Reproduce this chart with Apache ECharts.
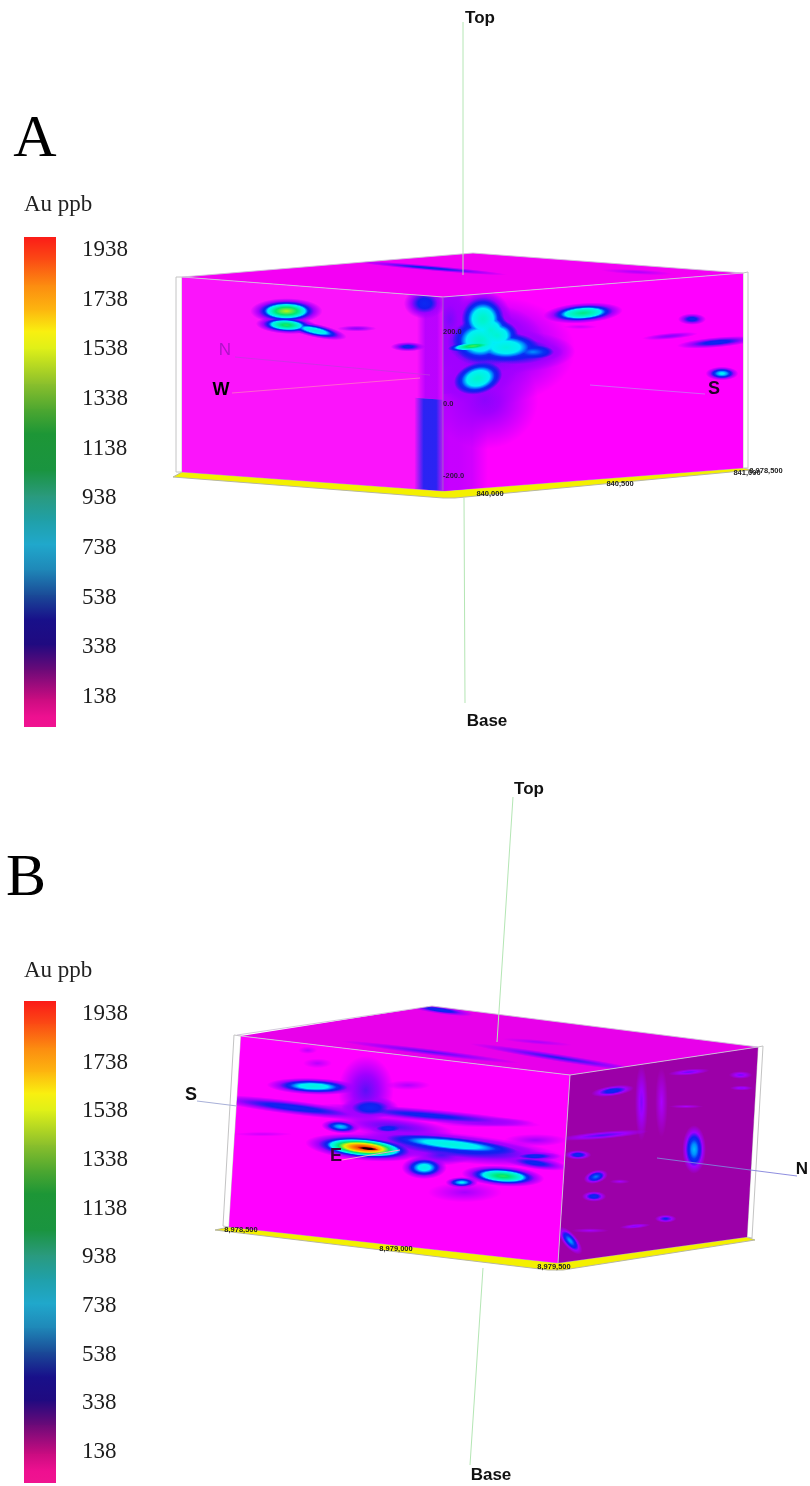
<!DOCTYPE html>
<html><head><meta charset="utf-8">
<style>html,body{margin:0;padding:0;background:#fff}#c{width:810px;height:1486px;filter:blur(0.5px)}</style>
<script src="https://cdn.jsdelivr.net/npm/echarts@6/dist/echarts.min.js"></script>
</head><body><div id="c"></div>
<script>
// ---- Legend ----
const legendTicks = [138,338,538,738,938,1138,1338,1538,1738,1938];
const legendPpb   = [9,60,130,250,350,450,550,650,750,850,950,1050,1200,1300,1400,1540,1610,1700,1800,1900,1995];
const legendHex   = ['#f01490','#ee1090','#c80c80','#6a0a78','#200a80','#18108a','#1a4c98','#1f88b8','#20a8cc','#20a0a8','#2a9a7c','#1a9440','#1d9636','#50a830','#8cc02c','#dff018','#f9f010','#fdb50f','#fc8a10','#fb4a14','#fb1818'];
// ---- Colour ramp of the block model ----
const fieldPpb = [40,200,350,480,620,740,950,1250,1550,1780,1950,2150];
const fieldHex = ['#ff00ff','#a000ff','#1020f0','#0830f4','#0090ff','#00f0f8','#00f4d0','#00e870','#e8f000','#ff9000','#d81800','#180000'];
// ---- Au anomalies: [along %, down %, half-length %, half-height %, tilt deg, peak ppb] ----
const anomaliesAWest = [
 [40,13.4,10,4.8,0,1500],[40,20.6,8.5,3.3,3,1300],[51,22.3,9,2.6,12,950],[67,19.6,6,1.2,0,220],
 [86.6,27,5,1.8,0,400],[93,4,6,6,0,430]];
const anomaliesASouth = [
 [15.7,29.4,22,22,0,260],[14,54.8,14,20,0,220],[2.3,12,6,16,0,240],
 [14,25,15,15,0,430],[24,31,15,8,0,430],[11.7,43.3,10,9,-15,430],
 [13.3,13,7,11,0,980],[12.3,24,9,11,0,980],[16,19,6,9,0,950],[18,22,7,8,0,950],[21,28.5,11,7.5,0,900],[30,32,7.5,3.8,0,620],
 [10,26.5,8,2.4,-6,1350],[11.7,43.3,8,8,-15,960],[46.7,14,9.6,3.8,-4,1200],[83,21.6,3.5,2.2,0,420],
 [75.7,29.4,7.3,1.3,-5,230],[91.3,34.5,10,2,-5,420],[93,50.7,4,2.6,0,760],[45.7,21,5,1,0,130]];
const anomaliesATop = [[60.5,27.6,20,0.8,5,380],[86.1,78.3,10,0.8,3,180]];
const anomaliesBEast = [
 [22.8,21.8,10.3,3.2,2,900],[17.2,34.1,20,2.8,7,420],[58,30,25.8,2.6,5,380],[38.7,20.7,6.5,14,0,270],
 [40.3,29.5,6.5,4.5,0,450],[48,38,14,4,6,290],[31.8,41.2,4.3,2.6,5,700],[46.1,39.3,4.3,2.1,0,430],[66.6,45.3,25.8,5.8,6,420],
 [65.6,43.8,19.8,3.8,6,900],[39.2,50.8,12.8,4.9,5,1950],[40.4,51,7,2,6,2250],[57.8,57.6,5,4.4,0,850],
 [69.4,63.2,3.6,2.1,0,750],[81.7,57.4,9.1,3.9,4,1300],[91.2,48.6,7.6,2.4,8,400],[91,45,6,1.8,0,420],
 [70.5,68.2,9,4.2,0,190],[62.8,50,7.6,4.2,0,300],[51.3,15.4,5.5,2.1,0,170],[23.6,9.5,3.6,2.1,0,160],
 [20.4,3.3,2.4,1.6,0,150],[8.5,49.7,7.6,1,0,130],[90.8,36.5,7.6,2.6,0,200],[75.2,30.2,12,2.1,0,210]];
const anomaliesBNorth = [
 [23.4,11.9,8.5,2.1,-8,430],[63.7,7.9,8.5,1.3,-5,260],[91.5,13.5,4.8,1.6,0,250],[92.4,20.5,4.8,1,0,230],
 [19.7,34.9,18.6,1.6,-5,290],[7,43.5,5.3,1.9,0,430],[17.3,56.6,4.8,2.6,-15,600],[17,67,4.8,2.1,0,440],
 [69,49.5,4.6,9.5,0,680],[56,84.3,4.3,1.6,0,360],[40,86,6.4,1,-5,240],[5.7,88.9,6.6,2.8,50,640],
 [39.3,20.5,2.7,16,0,230],[50,21.8,2.7,15,0,180],[63.3,26,7.4,0.8,0,180],[16,85,8,1,0,190],[30.3,61,4.3,1,0,190]];
const anomaliesBTop = [[12.2,50.4,36,0.75,7,280],[30,79.5,36,0.9,9,340],[94.2,5.8,13,0.9,8,450],[55.3,57.9,15,0.6,5,180]];
// ---- Vertical bands seen through the block: [from %, to %, top %, bottom %, peak ppb] ----
const bandsAWest  = [[90,101,0,53,170],[89,101,53,100,400]];
const bandsASouth = [[-3,9,0,100,190],[-3,15,50,100,130]];

const FACES = [
 {c:[[182,277],[473,253],[743,273],[443,297]],top:1,fill:'#f400f4',d:anomaliesATop,b:[]},
 {c:[[182,277],[443,297],[443,491],[182,472]],fill:'#fb14fb',d:anomaliesAWest,b:bandsAWest},
 {c:[[443,297],[743,273],[743,468],[443,491]],fill:'#ff00ff',d:anomaliesASouth,b:bandsASouth},
 {c:[[241,1036],[432,1006],[758,1047],[570,1075]],top:1,fill:'#e800ea',d:anomaliesBTop,b:[]},
 {c:[[241,1036],[570,1075],[558,1263],[229,1227]],fill:'#ff00ff',d:anomaliesBEast,b:[]},
 {c:[[570,1075],[758,1047],[747,1237],[558,1263]],fill:'#9c00a8',d:anomaliesBNorth,b:[]}
];
function hex(h){return [1,3,5].map(i=>parseInt(h.substr(i,2),16));}
function ramp(v){
  for(let i=1;i<fieldPpb.length;i++){ if(v<=fieldPpb[i]){
    const f=(v-fieldPpb[i-1])/(fieldPpb[i]-fieldPpb[i-1]),a=hex(fieldHex[i-1]),b=hex(fieldHex[i]);
    return a.map((x,k)=>Math.round(x+(b[k]-x)*f));}}
  return hex(fieldHex[fieldHex.length-1]);
}
function faceXY(f,s,t){
  const c=f.c;
  if(f.top){
    return [c[0][0]+(c[1][0]-c[0][0])*s/100+(c[3][0]-c[0][0])*t/100, c[0][1]+(c[1][1]-c[0][1])*s/100+(c[3][1]-c[0][1])*t/100];
  }
  const tx=c[0][0]+(c[1][0]-c[0][0])*s/100, ty=c[0][1]+(c[1][1]-c[0][1])*s/100,
        bx=c[3][0]+(c[2][0]-c[3][0])*s/100, by=c[3][1]+(c[2][1]-c[3][1])*s/100;
  return [tx+(bx-tx)*t/100, ty+(by-ty)*t/100];
}
function len(a,b){return Math.hypot(a[0]-b[0],a[1]-b[1]);}
function rad(P,L){
  if(L>=P) return 0;
  const r=Math.sqrt(1-L/P);
  return L<=fieldPpb[0]?r*1.4:(L<=fieldPpb[1]?r*1.14:r);
}
function anomalySeries(f){
  const rows=[];
  for(let lv=1;lv<fieldPpb.length;lv++) f.d.forEach((b,i)=>{ if(b[5]>fieldPpb[lv-1]) rows.push([i,lv]); });
  return {type:'custom',coordinateSystem:'cartesian2d',xAxisIndex:0,yAxisIndex:0,z:4,silent:true,clip:false,animation:false,
    encode:{x:0,y:1},data:rows,
    renderItem(p,api){
      const [i,lv]=rows[p.dataIndex], b=f.d[i], P=b[5];
      const C=api.coord(faceXY(f,b[0],b[1]));
      const w=len(f.c[0],f.c[1])/100, h=len(f.c[0],f.c[3])/100;
      const lo=fieldPpb[lv-1], hi=fieldPpb[lv];
      const rOut=rad(P,lo), rIn=rad(P,hi), rgb=ramp(Math.min(P,hi));
      const inner=rOut>0?rIn/rOut:0, col=`rgba(${rgb},1)`, col0=`rgba(${rgb},0)`;
      const stops=[{offset:0,color:col}]; if(inner>0) stops.push({offset:inner,color:col});
      stops.push({offset:1,color:col0});
      return {type:'group',
        clipPath:{type:'polygon',shape:{points:f.c.map(q=>api.coord(q))}},
        children:[{type:'circle',shape:{cx:0,cy:0,r:50},x:C[0],y:C[1],
          scaleX:b[2]*w*rOut/50,scaleY:b[3]*h*rOut/50,rotation:-b[4]*Math.PI/180,
          style:{fill:new echarts.graphic.RadialGradient(0.5,0.5,0.5,stops)}}]};
    }};
}
function bandSeries(f){
  return {type:'custom',coordinateSystem:'cartesian2d',xAxisIndex:0,yAxisIndex:0,z:3,silent:true,clip:false,animation:false,
    encode:{x:0,y:1},data:f.b.map(b=>b.slice()),
    renderItem(p,api){
      const b=f.b[p.dataIndex], rgb=ramp(b[4]);
      const pts=[[b[0],b[2]],[b[1],b[2]],[b[1],b[3]],[b[0],b[3]]].map(q=>api.coord(faceXY(f,q[0],q[1])));
      return {type:'group',
        clipPath:{type:'polygon',shape:{points:f.c.map(q=>api.coord(q))}},
        children:[{type:'polygon',shape:{points:pts},
        style:{fill:new echarts.graphic.LinearGradient(0,0,1,0,[
          {offset:0,color:`rgba(${rgb},0)`},{offset:0.3,color:`rgba(${rgb},0.88)`},
          {offset:0.7,color:`rgba(${rgb},0.88)`},{offset:1,color:`rgba(${rgb},0)`}])}}]};
    }};
}
const faceSeries={type:'custom',coordinateSystem:'cartesian2d',xAxisIndex:0,yAxisIndex:0,z:2,silent:true,clip:false,animation:false,
  encode:{x:0,y:1},data:FACES.map((f,i)=>[i,i]),
  renderItem(p,api){const f=FACES[p.dataIndex];
    return {type:'polygon',shape:{points:f.c.map(q=>api.coord(q))},style:{fill:f.fill}};}};
function legendSeries(ix){
  return {type:'custom',coordinateSystem:'cartesian2d',xAxisIndex:ix,yAxisIndex:ix,silent:true,clip:true,animation:false,z:2,
    encode:{x:0,y:1},data:legendPpb.slice(0,-1).map((v,i)=>[0,v,legendPpb[i+1]]),
    renderItem(p,api){
      const a=api.coord([0,api.value(1)]),b=api.coord([1,api.value(2)]),i=p.dataIndex;
      const y0=Math.floor(b[1]),y1=Math.ceil(a[1]);
      return {type:'rect',shape:{x:a[0],y:y0,width:b[0]-a[0],height:y1-y0},
        style:{fill:new echarts.graphic.LinearGradient(0,1,0,0,[{offset:0,color:legendHex[i]},{offset:1,color:legendHex[i+1]}])}};
    }};
}
const hiddenX=(i,mn,mx)=>({gridIndex:i,type:'value',min:mn,max:mx,show:false});
const legendY=(i,mn,mx)=>({gridIndex:i,type:'value',min:mn,max:mx,position:'right',
  axisLine:{show:false},axisTick:{show:false},splitLine:{show:false},
  axisLabel:{customValues:legendTicks,margin:26,align:'left',fontFamily:'Liberation Serif',fontSize:23,color:'#1c1c1c',formatter:v=>String(v)}});

const gLine=(pts,color,w)=>({type:'polyline',z:20,silent:true,shape:{points:pts},style:{stroke:color,lineWidth:w||1,fill:null}});
const gPoly=(pts,fill,stroke)=>({type:'polygon',z:1,silent:true,shape:{points:pts},style:{fill,stroke:stroke||null,lineWidth:1}});
const gTxt=(t,x,y,size,color,font,weight,align)=>({type:'text',z:30,silent:true,x,y,style:{text:t,fontSize:size,fill:color,fontFamily:font||'Liberation Sans',fontWeight:weight||'bold',align:align||'center',verticalAlign:'middle'}});
const EDGE='rgba(205,195,215,0.9)';
const graphics=[
 gPoly([[173,477],[182,472],[443,491],[743,468],[752,470],[455,498],[443,498]],'#f4f000','#b8b8a0'),
 gPoly([[176,277],[182,277],[182,472],[176,472]],'#fff','#c4c4c4'),
 gPoly([[743,273],[748,272],[748,468],[743,468]],'#fff','#c4c4c4'),
 gLine([[182,277],[473,253],[743,273]],EDGE),gLine([[182,277],[443,297],[743,273]],EDGE),
 gLine([[443,297],[443,491]],'rgba(150,110,190,0.8)'),
 gLine([[463,22],[463,275]],'#b4e6b4'),gLine([[464,498],[465,703]],'#b4e6b4'),
 gLine([[235,357],[430,375]],'rgba(190,60,220,0.7)'),gLine([[232,393],[420,378]],'rgba(255,130,190,0.7)'),
 gLine([[590,385],[705,394]],'rgba(200,120,240,0.8)'),
 gPoly([[215,1230],[229,1227],[558,1263],[747,1237],[755,1240],[563,1270],[548,1270]],'#f4f000','#b8b8a0'),
 gPoly([[234,1035],[241,1036],[229,1227],[223,1226]],'#fff','#c4c4c4'),
 gPoly([[758,1047],[763,1046],[752,1238],[747,1237]],'#fff','#c4c4c4'),
 gLine([[237,1035],[432,1006],[758,1047]],EDGE),gLine([[241,1036],[570,1075],[758,1047]],EDGE),
 gLine([[570,1075],[558,1263]],EDGE),
 gLine([[513,797],[497,1042]],'#b4e6b4'),gLine([[483,1268],[470,1465]],'#b4e6b4'),
 gLine([[197,1101],[237,1106]],'#a8b0d8'),gLine([[657,1158],[797,1176]],'rgba(130,130,220,0.9)'),
 gLine([[342,1160],[400,1150]],'rgba(255,170,200,0.9)'),
 gTxt('A',35,140,60,'#000','Liberation Serif','normal'),
 gTxt('Au ppb',24,205,23,'#222','Liberation Serif','normal','left'),
 gTxt('Top',480,18,17,'#111'),gTxt('Base',487,721,17,'#111'),
 gTxt('N',225,350,17,'#b014c8','Liberation Sans','normal'),gTxt('W',221,390,18,'#000'),gTxt('S',714,389,18,'#25002a'),
 gTxt('200.0',443,332,7.5,'#301040','Liberation Sans','bold','left'),gTxt('0.0',443,404,7.5,'#301040','Liberation Sans','bold','left'),gTxt('-200.0',443,476,7.5,'#301040','Liberation Sans','bold','left'),
 gTxt('840,000',490,494,7.5,'#222'),gTxt('840,500',620,484,7.5,'#222'),gTxt('841,000',747,473,7.5,'#222'),gTxt('8,978,500',766,471,7.5,'#222'),
 gTxt('B',26,879,60,'#000','Liberation Serif','normal'),
 gTxt('Au ppb',24,971,23,'#222','Liberation Serif','normal','left'),
 gTxt('Top',529,789,17,'#111'),gTxt('Base',491,1475,17,'#111'),
 gTxt('S',191,1095,18,'#111'),gTxt('N',802,1169,17,'#111'),gTxt('E',336,1156,18,'#3a003c'),
 gTxt('8,978,500',241,1230,7.5,'#222'),gTxt('8,979,000',396,1249,7.5,'#222'),gTxt('8,979,500',554,1267,7.5,'#222')
];

const chart=echarts.init(document.getElementById('c'),null,{renderer:'canvas',width:810,height:1486});
chart.setOption({
  animation:false,backgroundColor:'#fff',
  grid:[{left:0,top:0,width:810,height:1486},{left:24,top:237,width:32,height:490},{left:24,top:1001,width:32,height:482}],
  xAxis:[hiddenX(0,0,810),hiddenX(1,0,1),hiddenX(2,0,1)],
  yAxis:[{gridIndex:0,type:'value',min:0,max:1486,inverse:true,show:false},legendY(1,17,1990),legendY(2,10.5,1991)],
  graphic:{elements:graphics},
  series:[faceSeries,...FACES.filter(f=>f.b.length).map(bandSeries),...FACES.map(anomalySeries),legendSeries(1),legendSeries(2)]
});
</script></body></html>
